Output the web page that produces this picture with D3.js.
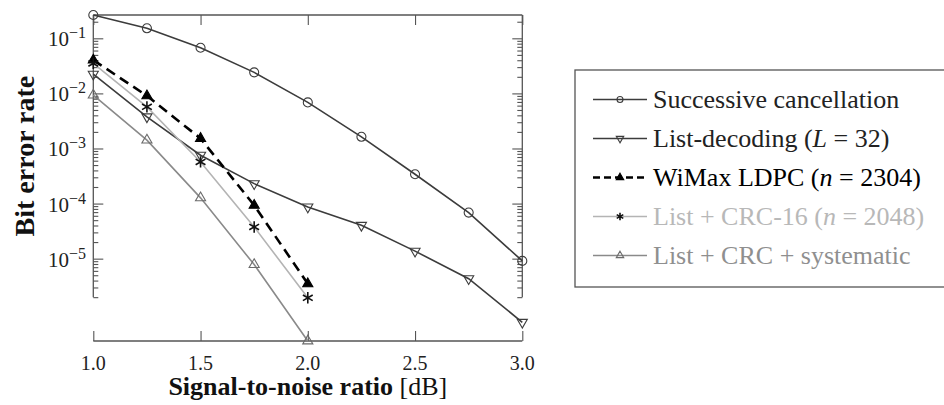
<!DOCTYPE html>
<html>
<head>
<meta charset="utf-8">
<script src="https://cdn.jsdelivr.net/npm/d3@7"></script>
<style>
    html, body { margin: 0; padding: 0; background: #fff; }
    svg { display: block; }
    svg text { font-family: "Liberation Serif", "DejaVu Serif", serif; }
</style>
</head>
<body>
<svg id="chart" width="944" height="405"></svg>
<script>
'use strict';

/*==============================
=            Data              =
==============================*/
var snrFull  = [1.0, 1.25, 1.5, 1.75, 2.0, 2.25, 2.5, 2.75, 3.0];
var snrShort = [1.0, 1.25, 1.5, 1.75, 2.0];

var berSC      = [0.265, 0.152, 0.0675, 0.0241, 0.00686, 0.00163, 3.41e-4, 6.86e-5, 9.1e-6];
var berList    = [0.0224, 0.00376, 7.55e-4, 2.3e-4, 8.67e-5, 4.03e-5, 1.37e-5, 4.33e-6, 7.0e-7];
var berWiMax   = [0.0403, 0.00904, 0.00152, 9.3e-5, 3.5e-6];
var berCRC16   = [0.035, 0.0057, 5.7e-4, 3.76e-5, 1.95e-6];
var berSystem  = [0.0093, 0.00142, 1.27e-4, 7.8e-6, 3.2e-7];

var xTicks      = [1.0, 1.5, 2.0, 2.5, 3.0];
var yMajorTicks = [1e-1, 1e-2, 1e-3, 1e-4, 1e-5];
var yExponents  = ["−1", "−2", "−3", "−4", "−5"];
var yAxisLow    = 2e-6;   // the y spine stops at the last minor tick
/*=====  End of Data  ======*/

var FONT = "Liberation Serif, DejaVu Serif, serif";

var series = [
    { name: "Successive cancellation", x: snrFull,  y: berSC,     line: "#3c3c3c", width: 1.6, dash: null,  marker: "circle", mfill: "none", mstroke: "#3c3c3c", text: "#222" },
    { name: "List-decoding",           x: snrFull,  y: berList,   line: "#3c3c3c", width: 1.6, dash: null,  marker: "down",   mfill: "none", mstroke: "#3c3c3c", text: "#222", math: ["L", " = 32"] },
    { name: "WiMax LDPC",              x: snrShort, y: berWiMax,  line: "#000",    width: 2.6, dash: "10,6", marker: "up",    mfill: "#000", mstroke: "#000",    text: "#000", math: ["n", " = 2304"] },
    { name: "List + CRC-16",           x: snrShort, y: berCRC16,  line: "#b4b4b4", width: 1.6, dash: null,  marker: "star",   mfill: "none", mstroke: "#111",    text: "#b8b8b8", math: ["n", " = 2048"] },
    { name: "List + CRC + systematic", x: snrShort, y: berSystem, line: "#8a8a8a", width: 1.6, dash: null,  marker: "up",     mfill: "none", mstroke: "#6a6a6a", text: "#8f8f8f" }
];

var svg = d3.select("#chart");
var axisColor = "#555";

var allY = [].concat(berSC, berList, berWiMax, berCRC16, berSystem);

var x = d3.scaleLinear().domain([1, 3]).range([93.3, 522.3]);
var y = d3.scaleLog().domain([d3.min(allY), d3.max(allY)]).range([341, 15]);

// minor ticks 2..9 x 10^k inside the spine range
var yMinorTicks = [];
for (var k = -6; k <= -1; k++) {
    for (var m = 2; m <= 9; m++) {
        var v = m * Math.pow(10, k);
        if (v >= yAxisLow * 0.999 && v <= y.domain()[1]) yMinorTicks.push(v);
    }
}

/*==============================
=            Axes              =
==============================*/
function styleAxis(g) {
    g.select(".domain").remove();
    g.selectAll(".tick line").attr("stroke", axisColor).attr("stroke-width", 1.1);
    g.selectAll(".tick text").remove();
}

var yTop = y(y.domain()[1]);
var ySpineEnd = y(yAxisLow);

// left spine with inward ticks
svg.append("g").attr("transform", "translate(" + x(1) + ",0)")
    .call(d3.axisLeft(y).tickValues(yMajorTicks).tickSize(-10).tickFormat(""))
    .call(styleAxis);
svg.append("g").attr("transform", "translate(" + x(1) + ",0)")
    .call(d3.axisLeft(y).tickValues(yMinorTicks).tickSize(-5).tickFormat(""))
    .call(styleAxis);

// right spine with inward ticks
svg.append("g").attr("transform", "translate(" + x(3) + ",0)")
    .call(d3.axisRight(y).tickValues(yMajorTicks).tickSize(-10).tickFormat(""))
    .call(styleAxis);
svg.append("g").attr("transform", "translate(" + x(3) + ",0)")
    .call(d3.axisRight(y).tickValues(yMinorTicks).tickSize(-5).tickFormat(""))
    .call(styleAxis);

// bottom and top with inward ticks
svg.append("g").attr("transform", "translate(0," + y.range()[0] + ")")
    .call(d3.axisBottom(x).tickValues(xTicks).tickSize(-10).tickFormat(""))
    .call(styleAxis);
svg.append("g").attr("transform", "translate(0," + yTop + ")")
    .call(d3.axisTop(x).tickValues(xTicks).tickSize(-10).tickFormat(""))
    .call(styleAxis);

var frame = svg.append("g").attr("stroke", axisColor).attr("stroke-width", 1.3);
frame.append("line").attr("x1", x(1)).attr("x2", x(1)).attr("y1", yTop).attr("y2", ySpineEnd);
frame.append("line").attr("x1", x(3)).attr("x2", x(3)).attr("y1", yTop).attr("y2", ySpineEnd);
frame.append("line").attr("x1", x(1)).attr("x2", x(3)).attr("y1", yTop).attr("y2", yTop);
frame.append("line").attr("x1", x(1)).attr("x2", x(3)).attr("y1", y.range()[0]).attr("y2", y.range()[0]);

// x tick labels
svg.append("g").selectAll("text").data(xTicks).join("text")
    .attr("x", function(d) { return x(d); })
    .attr("y", 370)
    .attr("text-anchor", "middle")
    .attr("font-family", FONT)
    .attr("font-size", 20)
    .attr("fill", "#222")
    .text(function(d) { return d.toFixed(1); });

// y tick labels: 10^{-k}
var yLab = svg.append("g").selectAll("text").data(yMajorTicks).join("text")
    .attr("x", 86)
    .attr("y", function(d) { return y(d) + 8; })
    .attr("text-anchor", "end")
    .attr("font-family", FONT)
    .attr("fill", "#222");
yLab.append("tspan").attr("font-size", 21).text("10");
yLab.append("tspan").attr("font-size", 16).attr("dy", -8)
    .text(function(d, i) { return yExponents[i]; });

// axis titles
var xTitle = svg.append("text")
    .attr("x", (x(1) + x(3)) / 2)
    .attr("y", 395)
    .attr("text-anchor", "middle")
    .attr("font-family", FONT)
    .attr("font-size", 26)
    .attr("fill", "#111");
xTitle.append("tspan").attr("font-weight", "bold").text("Signal-to-noise ratio");
xTitle.append("tspan").text(" [dB]");

svg.append("text")
    .attr("transform", "translate(34," + ((yTop + ySpineEnd) / 2) + ") rotate(-90)")
    .attr("text-anchor", "middle")
    .attr("font-family", FONT)
    .attr("font-size", 28)
    .attr("font-weight", "bold")
    .attr("fill", "#111")
    .text("Bit error rate");

/*==============================
=            Marks             =
==============================*/
function markerPath(type, size) {
    var sym = { circle: d3.symbolCircle, up: d3.symbolTriangle, down: d3.symbolTriangle, star: d3.symbolAsterisk }[type];
    return d3.symbol().type(sym).size(size)();
}

function drawMarker(g, s, px, py, size) {
    g.append("path")
        .attr("d", markerPath(s.marker, size))
        .attr("transform", "translate(" + px + "," + py + ")" + (s.marker === "down" ? " rotate(180)" : ""))
        .attr("fill", s.mfill)
        .attr("stroke", s.mstroke)
        .attr("stroke-width", s.marker === "star" ? 1.6 : 1.1);
}

var line = d3.line();
var plot = svg.append("g");

series.forEach(function(s) {
    var pts = s.x.map(function(v, i) { return [x(v), y(s.y[i])]; });
    plot.append("path")
        .attr("d", line(pts))
        .attr("fill", "none")
        .attr("stroke", s.line)
        .attr("stroke-width", s.width)
        .attr("stroke-dasharray", s.dash);
});

series.forEach(function(s) {
    var g = plot.append("g");
    s.x.forEach(function(v, i) {
        drawMarker(g, s, x(v), y(s.y[i]), s.marker === "circle" ? 64 : (s.marker === "star" ? 90 : 44));
    });
});

/*==============================
=            Legend            =
==============================*/
var legend = svg.append("g");
legend.append("rect")
    .attr("x", 575).attr("y", 70)
    .attr("width", 420).attr("height", 217)
    .attr("fill", "#fff")
    .attr("stroke", axisColor)
    .attr("stroke-width", 1.3);

series.forEach(function(s, i) {
    var ry = 99.5 + i * 39;
    var g = legend.append("g");
    g.append("line")
        .attr("x1", 593).attr("x2", 647)
        .attr("y1", ry).attr("y2", ry)
        .attr("stroke", s.line)
        .attr("stroke-width", s.width)
        .attr("stroke-dasharray", s.dash === null ? null : "7,4");
    drawMarker(g, s, 620, ry, s.marker === "circle" ? 28 : (s.marker === "star" ? 40 : 24));

    var t = g.append("text")
        .attr("x", 653)
        .attr("y", ry + 8)
        .attr("font-family", FONT)
        .attr("font-size", 26)
        .attr("fill", s.text);
    t.append("tspan").text(s.name + (s.math ? " (" : ""));
    if (s.math) {
        t.append("tspan").attr("font-style", "italic").text(s.math[0]);
        t.append("tspan").text(s.math[1] + ")");
    }
});
</script>
</body>
</html>
